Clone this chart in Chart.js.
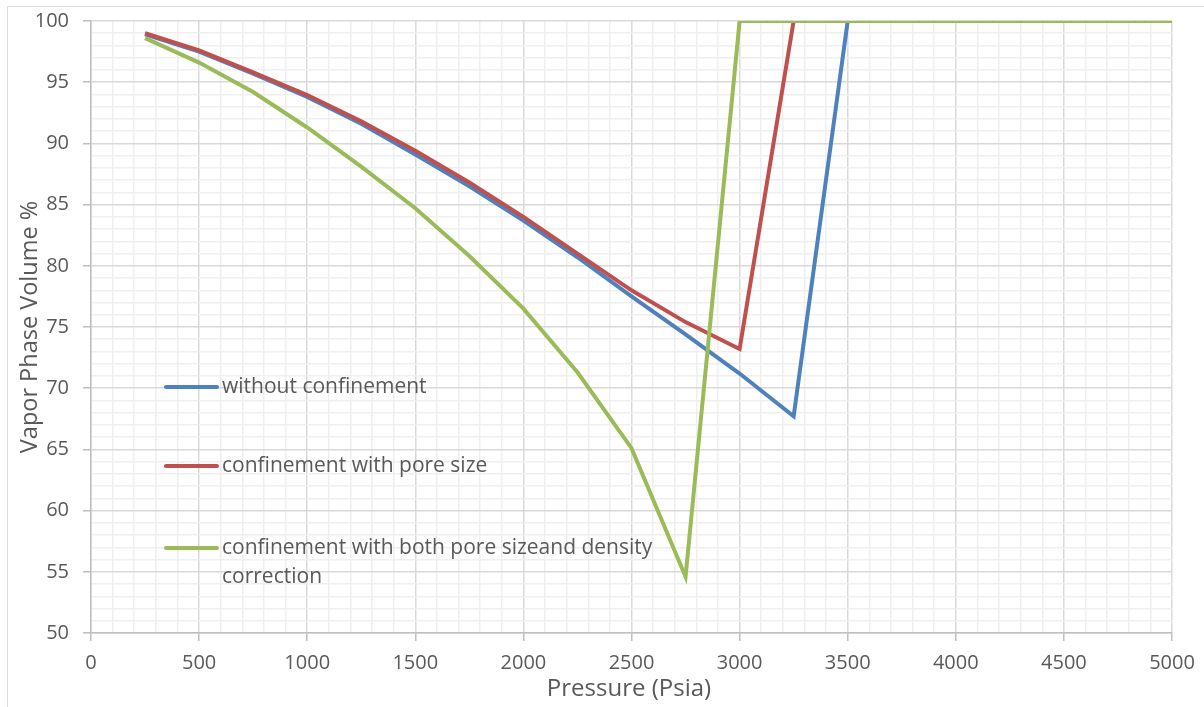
<!DOCTYPE html>
<html>
<head>
<meta charset="utf-8">
<script src="https://cdn.jsdelivr.net/npm/chart.js@4"></script>
<style>
  html, body { margin: 0; padding: 0; background: #ffffff; }
  #wrap { position: relative; width: 1204px; height: 707px; }
  canvas { display: block; }
</style>
</head>
<body>
<div id="wrap"><canvas id="c" width="1204" height="707"></canvas></div>
<script>
const pressures = [250, 500, 750, 1000, 1250, 1500, 1750, 2000, 2250, 2500, 2750, 3000, 3250, 3500, 3750, 4000, 4250, 4500, 4750, 5000];
const withoutConfinement = [98.9, 97.5, 95.7, 93.8, 91.6, 89.1, 86.5, 83.7, 80.7, 77.5, 74.4, 71.2, 67.7, 100, 100, 100, 100, 100, 100, 100];
const poreSize = [99.0, 97.6, 95.8, 93.95, 91.8, 89.4, 86.8, 84.0, 81.0, 78.0, 75.4, 73.2, 100, 100, 100, 100, 100, 100, 100, 100];
const poreSizeDensity = [98.6, 96.6, 94.2, 91.3, 88.1, 84.7, 80.8, 76.5, 71.3, 65.1, 54.6, 100, 100, 100, 100, 100, 100, 100, 100, 100];
const seriesLabels = ["without confinement", "confinement with pore size", "confinement with both pore sizeand density correction"];
const xTickLabels = [0, 500, 1000, 1500, 2000, 2500, 3000, 3500, 4000, 4500, 5000];
const yTickLabels = [50, 55, 60, 65, 70, 75, 80, 85, 90, 95, 100];
const xTitle = "Pressure (Psia)";
const yTitle = "Vapor Phase Volume %";

const FONT = "'Open Sans', sans-serif";
const TEXT = "#595959";

function pts(ys) { return pressures.map((x, i) => ({ x: x, y: ys[i] })); }

const frame = {
  id: 'frame',
  beforeDraw(chart) {
    const ctx = chart.ctx;
    ctx.save();
    ctx.strokeStyle = '#d9d9d9';
    ctx.lineWidth = 1;
    ctx.beginPath();
    ctx.moveTo(7.5, 707);
    ctx.lineTo(7.5, 6.5);
    ctx.lineTo(1204, 6.5);
    ctx.stroke();
    ctx.restore();
  }
};

const titles = {
  id: 'titles',
  afterDraw(chart) {
    const ctx = chart.ctx;
    ctx.save();
    ctx.fillStyle = TEXT;
    ctx.font = "24px " + FONT;
    ctx.textAlign = 'center';
    ctx.textBaseline = 'middle';
    ctx.fillText(xTitle, 629, 689);
    ctx.font = "23.5px " + FONT;
    ctx.translate(30, 327);
    ctx.rotate(-Math.PI / 2);
    ctx.fillText(yTitle, 0, 0);
    ctx.restore();
  }
};

const customLegend = {
  id: 'customLegend',
  afterDraw(chart) {
    const ctx = chart.ctx;
    const ys = [387, 466, 548];
    ctx.save();
    ctx.font = "21px " + FONT;
    ctx.textBaseline = 'middle';
    ctx.textAlign = 'left';
    chart.data.datasets.forEach((ds, i) => {
      const y = ys[i];
      ctx.strokeStyle = ds.borderColor;
      ctx.lineWidth = 4;
      ctx.lineCap = 'round';
      ctx.beginPath();
      ctx.moveTo(166, y);
      ctx.lineTo(217, y);
      ctx.stroke();
      ctx.fillStyle = TEXT;
      const words = ds.label.split(' ');
      let line = '';
      let ly = y;
      const maxW = 460;
      words.forEach(w => {
        const test = line ? line + ' ' + w : w;
        if (ctx.measureText(test).width > maxW && line) {
          ctx.fillText(line, 222, ly);
          line = w;
          ly += 29;
        } else {
          line = test;
        }
      });
      ctx.fillText(line, 222, ly);
    });
    ctx.restore();
  }
};

const colors = ['#4f81bd', '#c0504d', '#9bbb59'];
const allSeries = [withoutConfinement, poreSize, poreSizeDensity];

new Chart(document.getElementById('c'), {
  type: 'line',
  data: {
    datasets: allSeries.map((s, i) => ({
      label: seriesLabels[i],
      data: pts(s),
      borderColor: colors[i],
      backgroundColor: colors[i],
      borderWidth: 4,
      pointRadius: 0,
      tension: 0,
      fill: false,
      order: 3 - i
    }))
  },
  options: {
    responsive: false,
    animation: false,
    layout: { padding: { top: 21, right: 32, bottom: 0, left: 0 } },
    plugins: { legend: { display: false }, tooltip: { enabled: false } },
    scales: {
      x: {
        type: 'linear',
        min: 0, max: 5000,
        afterFit(scale) { scale.height = 74; scale.paddingLeft = 0; scale.paddingRight = 0; },
        afterBuildTicks(scale) {
          const t = [];
          for (let v = 0; v <= 5000; v += 100) t.push({ value: v });
          scale.ticks = t;
        },
        ticks: {
          autoSkip: false, maxRotation: 0, minRotation: 0,
          color: TEXT, font: { family: FONT, size: 20 }, padding: 10,
          callback(v) { const r = Math.round(v); return xTickLabels.includes(r) ? String(r) : ''; }
        },
        grid: {
          color(c) { return Math.round(c.tick.value) % 500 === 0 ? '#d9d9d9' : '#efefef'; },
          lineWidth(c) { return 1.5; },
          tickColor(c) { return Math.round(c.tick.value) % 500 === 0 ? '#bfbfbf' : 'rgba(0,0,0,0)'; },
          tickLength: 8,
          drawTicks: true
        },
        border: { color: '#bfbfbf', width: 1.5 }
      },
      y: {
        type: 'linear',
        min: 50, max: 100,
        afterFit(scale) { scale.width = 91; scale.paddingTop = 0; scale.paddingBottom = 0; },
        afterBuildTicks(scale) {
          const t = [];
          for (let v = 50; v <= 100; v += 1) t.push({ value: v });
          scale.ticks = t;
        },
        ticks: {
          autoSkip: false,
          color: TEXT, font: { family: FONT, size: 20 }, padding: 14,
          callback(v) { const r = Math.round(v); return yTickLabels.includes(r) ? String(r) : ''; }
        },
        grid: {
          color(c) { return Math.round(c.tick.value) % 5 === 0 ? '#d9d9d9' : '#efefef'; },
          lineWidth(c) { return 1.5; },
          tickColor(c) { return Math.round(c.tick.value) % 5 === 0 ? '#bfbfbf' : 'rgba(0,0,0,0)'; },
          tickLength: 8,
          drawTicks: true
        },
        border: { color: '#bfbfbf', width: 1.5 }
      }
    }
  },
  plugins: [frame, titles, customLegend]
});
</script>
</body>
</html>
